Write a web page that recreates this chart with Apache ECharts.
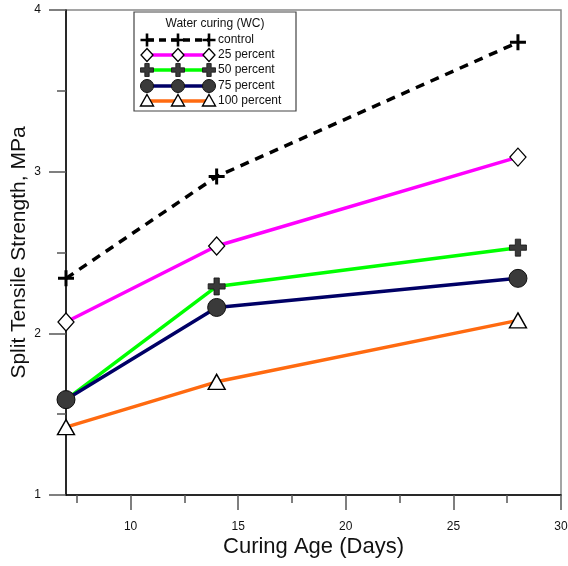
<!DOCTYPE html>
<html>
<head>
<meta charset="utf-8">
<script src="https://cdn.jsdelivr.net/npm/echarts@6/dist/echarts.min.js"></script>
<style>html,body{margin:0;padding:0;background:#fff}#c{width:568px;height:566px}</style>
</head>
<body>
<div id="c"></div>
<script>
// ---- data ----
const days = [7, 14, 28];
const control = [2.34, 2.97, 3.80];
const pct25 = [2.07, 2.54, 3.09];
const pct50 = [1.59, 2.29, 2.53];
const pct75 = [1.59, 2.16, 2.34];
const pct100 = [1.42, 1.70, 2.08];
const seriesNames = ['control', '25 percent', '50 percent', '75 percent', '100 percent'];
const legendTitle = 'Water curing (WC)';
const xMajorTicks = [10, 15, 20, 25, 30];
const xMinorTicks = [7.5, 12.5, 17.5, 22.5, 27.5];

const FONT = 'Arial, "Liberation Sans", sans-serif';
const thinPlus = 'path://M6.5,0H9.5V6.5H16V9.5H9.5V16H6.5V9.5H0V6.5H6.5Z';
const thickPlus = 'path://M5.5,0H10.5V5.5H16V10.5H10.5V16H5.5V10.5H0V5.5H5.5Z';

const styles = [
  {color:'#000000', type:'dashed', symbol: thinPlus, size:16, fill:'#000', border:'#000', bw:0},
  {color:'#ff00ff', type:'solid', symbol:'diamond', size:[16,18], fill:'#fff', border:'#000', bw:1.3},
  {color:'#00ff00', type:'solid', symbol: thickPlus, size:17, fill:'#3a3a3a', border:'#111', bw:0.8},
  {color:'#000066', type:'solid', symbol:'circle', size:18, fill:'#3a3a3a', border:'#111', bw:1},
  {color:'#ff6a10', type:'solid', symbol:'triangle', size:[17,15], fill:'#fff', border:'#000', bw:1.4}
];
const dataArr = [control, pct25, pct50, pct75, pct100];

const series = dataArr.map((vals, i) => ({
  name: seriesNames[i],
  type: 'line',
  xAxisIndex: 0,
  yAxisIndex: 0,
  data: days.map((d, j) => [d, vals[j]]),
  symbol: styles[i].symbol,
  symbolSize: styles[i].size,
  showAllSymbol: true,
  animation: false,
  lineStyle: {color: styles[i].color, width: 3.5, type: styles[i].type === 'dashed' ? [9, 7] : 'solid'},
  itemStyle: {color: styles[i].fill, borderColor: styles[i].border, borderWidth: styles[i].bw, opacity: 1},
  emphasis: {disabled: true},
  z: 2 + i
}));

// ---- legend drawn with graphic elements ----
const lgX = 134, lgY = 12, lgW = 162, lgH = 99;
const rowY = [40, 55, 70, 86, 101];
const sx = [147, 178, 209];
const graphics = [{
  type:'rect', shape:{x:lgX, y:lgY, width:lgW, height:lgH},
  style:{fill:'#fff', stroke:'#444', lineWidth:1.2}, z:10
}, {
  type:'text', x:lgX + lgW/2, y:24,
  style:{text:legendTitle, font:'12px ' + FONT, fill:'#111', align:'center', verticalAlign:'middle'}, z:11
}];
function marker(i, cx, cy) {
  const s = styles[i];
  if (i === 0 || i === 2) {
    const a = i === 0 ? 1.3 : 2.2, h = 6.5;
    return {type:'polygon', shape:{points:[
      [cx-a,cy-h],[cx+a,cy-h],[cx+a,cy-a],[cx+h,cy-a],[cx+h,cy+a],[cx+a,cy+a],
      [cx+a,cy+h],[cx-a,cy+h],[cx-a,cy+a],[cx-h,cy+a],[cx-h,cy-a],[cx-a,cy-a]]},
      style:{fill:s.fill, stroke:s.border, lineWidth:s.bw}, z:12};
  }
  if (i === 1) {
    return {type:'polygon', shape:{points:[[cx,cy-6.5],[cx+6,cy],[cx,cy+6.5],[cx-6,cy]]},
      style:{fill:'#fff', stroke:'#000', lineWidth:1.3}, z:12};
  }
  if (i === 3) {
    return {type:'circle', shape:{cx:cx, cy:cy, r:6.5}, style:{fill:s.fill, stroke:'#111', lineWidth:1}, z:12};
  }
  return {type:'polygon', shape:{points:[[cx,cy-6.5],[cx+6.5,cy+5],[cx-6.5,cy+5]]},
    style:{fill:'#fff', stroke:'#000', lineWidth:1.4}, z:12};
}
seriesNames.forEach((nm, i) => {
  const y = rowY[i];
  graphics.push({type:'line', shape:{x1:sx[0], y1:y, x2:sx[2], y2:y},
    style:{stroke:styles[i].color, lineWidth:3.5, lineDash: i === 0 ? [7,5] : null}, z:11});
  sx.forEach(x => graphics.push(marker(i, x, y)));
  graphics.push({type:'text', x:218, y:y,
    style:{text:nm, font:'12px ' + FONT, fill:'#111', verticalAlign:'middle'}, z:11});
});

const chart = echarts.init(document.getElementById('c'), null, {renderer:'canvas'});
chart.setOption({
  animation: false,
  backgroundColor: '#fff',
  grid: {left:66, right:7, top:10, bottom:71, show:true, borderColor:'#888', borderWidth:1.5,
         containLabel:false, outerBoundsMode:'none'},
  xAxis: [{
    type:'value', min:7, max:30, position:'bottom',
    name:'Curing Age (Days)', nameLocation:'middle', nameGap:41, nameMoveOverlap:false,
    nameTextStyle:{fontSize:22, fontFamily:FONT, color:'#111'},
    axisLine:{show:true, onZero:false, lineStyle:{color:'#000', width:1.5}},
    axisTick:{show:true, inside:false, length:15, customValues:xMajorTicks, lineStyle:{color:'#555', width:1.5}},
    axisLabel:{show:true, margin:26, customValues:xMajorTicks, fontSize:12, fontFamily:FONT, color:'#111'},
    splitLine:{show:false}
  }, {
    type:'value', min:7, max:30, position:'bottom', offset:0,
    axisLine:{show:false, onZero:false},
    axisTick:{show:true, inside:false, length:8, customValues:xMinorTicks, lineStyle:{color:'#555', width:1.5}},
    axisLabel:{show:false},
    splitLine:{show:false}
  }],
  yAxis: {
    type:'value', min:1, max:4, interval:1,
    name:'Split Tensile Strength, MPa', nameLocation:'middle', nameGap:36, nameRotate:90, nameMoveOverlap:false,
    nameTextStyle:{fontSize:21, fontFamily:FONT, color:'#111'},
    axisLine:{show:true, onZero:false, lineStyle:{color:'#000', width:1.5}},
    axisTick:{show:true, inside:false, length:17, lineStyle:{color:'#555', width:1.5}},
    minorTick:{show:true, splitNumber:2, length:9, lineStyle:{color:'#555', width:1.5}},
    axisLabel:{margin:25, fontSize:12, fontFamily:FONT, color:'#111'},
    splitLine:{show:false}, minorSplitLine:{show:false}
  },
  series: series,
  graphic: graphics
});
</script>
</body>
</html>
